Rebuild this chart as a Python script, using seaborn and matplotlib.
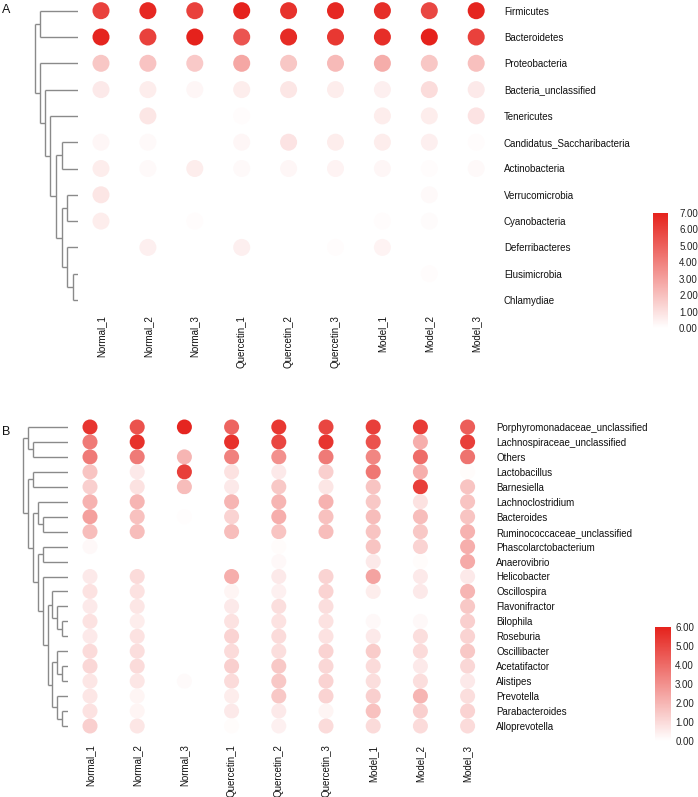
import numpy as np
import pandas as pd
import matplotlib
matplotlib.use("Agg")
import matplotlib.pyplot as plt
import seaborn as sns
from matplotlib.colors import LinearSegmentedColormap, Normalize
from matplotlib.cm import ScalarMappable
from matplotlib.ticker import FormatStrFormatter

# ---------------- data ----------------
samples = ["Normal_1", "Normal_2", "Normal_3", "Quercetin_1", "Quercetin_2",
           "Quercetin_3", "Model_1", "Model_2", "Model_3"]

phyla = ["Firmicutes", "Bacteroidetes", "Proteobacteria", "Bacteria_unclassified",
         "Tenericutes", "Candidatus_Saccharibacteria", "Actinobacteria",
         "Verrucomicrobia", "Cyanobacteria", "Deferribacteres", "Elusimicrobia",
         "Chlamydiae"]
phyla_values = [
    [6.0, 6.8, 6.0, 7.0, 6.5, 6.8, 6.6, 5.8, 6.9],
    [6.9, 6.0, 7.0, 5.4, 6.7, 6.3, 6.6, 7.0, 6.0],
    [1.8, 1.9, 1.7, 2.8, 1.8, 2.2, 2.6, 1.8, 2.0],
    [0.7, 0.6, 0.3, 0.6, 0.8, 0.6, 0.5, 1.1, 0.7],
    [0.0, 0.8, 0.0, 0.1, 0.0, 0.0, 0.6, 0.6, 0.9],
    [0.3, 0.2, 0.0, 0.3, 0.9, 0.6, 0.6, 0.5, 0.1],
    [0.6, 0.2, 0.6, 0.2, 0.3, 0.4, 0.3, 0.1, 0.2],
    [0.8, 0.0, 0.0, 0.0, 0.0, 0.0, 0.0, 0.2, 0.0],
    [0.6, 0.0, 0.1, 0.0, 0.0, 0.0, 0.1, 0.15, 0.0],
    [0.0, 0.5, 0.0, 0.5, 0.0, 0.1, 0.4, 0.0, 0.0],
    [0.0, 0.0, 0.0, 0.0, 0.0, 0.0, 0.0, 0.1, 0.0],
    [0.0, 0.0, 0.0, 0.0, 0.0, 0.0, 0.0, 0.0, 0.0],
]
# dendrogram merges: (child_a, child_b, height)
phyla_tree = [
    (10, 11, 5.5), (9, 12, 11), (7, 8, 11), (14, 13, 16), (5, 6, 16),
    (16, 15, 22), (4, 17, 28), (3, 18, 33), (2, 19, 38), (0, 1, 38), (21, 20, 43),
]

genera = ["Porphyromonadaceae_unclassified", "Lachnospiraceae_unclassified", "Others",
          "Lactobacillus", "Barnesiella", "Lachnoclostridium", "Bacteroides",
          "Ruminococcaceae_unclassified", "Phascolarctobacterium", "Anaerovibrio",
          "Helicobacter", "Oscillospira", "Flavonifractor", "Bilophila", "Roseburia",
          "Oscillibacter", "Acetatifactor", "Alistipes", "Prevotella",
          "Parabacteroides", "Alloprevotella"]
genera_values = [
    [5.5, 4.7, 5.9, 4.2, 5.4, 5.0, 5.2, 5.3, 4.4],
    [3.6, 5.6, 0.0, 5.6, 5.0, 5.5, 4.7, 2.2, 5.2],
    [3.6, 3.6, 2.0, 3.4, 3.0, 3.6, 3.3, 4.0, 3.8],
    [1.6, 0.6, 5.2, 0.8, 0.6, 1.3, 3.7, 2.2, 0.1],
    [1.3, 0.8, 1.8, 0.6, 1.5, 0.7, 1.6, 5.2, 1.6],
    [2.1, 2.0, 0.0, 2.0, 2.0, 2.1, 1.5, 0.8, 1.6],
    [2.6, 1.7, 0.05, 1.2, 2.2, 1.7, 1.8, 1.8, 1.6],
    [1.8, 1.8, 0.0, 1.8, 1.6, 1.8, 1.6, 1.5, 2.1],
    [0.2, 0.0, 0.0, 0.0, 0.1, 0.0, 1.6, 1.2, 2.2],
    [0.0, 0.0, 0.0, 0.0, 0.2, 0.0, 0.6, 0.1, 2.3],
    [0.6, 1.0, 0.0, 2.2, 0.6, 1.2, 2.5, 0.6, 0.6],
    [0.8, 0.8, 0.0, 0.3, 0.4, 1.2, 0.5, 0.6, 2.0],
    [0.6, 0.7, 0.0, 0.6, 0.9, 0.9, 0.0, 0.0, 1.5],
    [0.8, 0.5, 0.0, 0.8, 0.8, 0.8, 0.2, 0.2, 1.3],
    [0.6, 0.8, 0.0, 1.2, 1.0, 0.8, 0.6, 0.9, 1.2],
    [1.0, 0.9, 0.0, 1.0, 0.9, 1.2, 1.4, 1.0, 1.5],
    [1.1, 1.0, 0.0, 1.3, 1.5, 1.1, 1.0, 0.6, 1.1],
    [0.7, 0.7, 0.15, 1.0, 1.5, 1.2, 0.9, 0.9, 0.6],
    [0.7, 0.3, 0.0, 0.5, 1.5, 1.2, 1.3, 2.0, 0.9],
    [0.8, 0.3, 0.0, 0.6, 0.6, 0.3, 1.7, 1.3, 1.2],
    [1.3, 0.7, 0.0, 0.1, 0.4, 1.0, 1.0, 1.0, 1.0],
]
genera_tree = [
    (1, 2, 35), (0, 21, 40), (3, 4, 35), (6, 7, 25), (5, 24, 30), (8, 9, 25),
    (13, 14, 6), (12, 27, 11), (11, 28, 16), (16, 17, 6), (15, 30, 11),
    (19, 20, 6), (18, 32, 11), (31, 33, 16), (29, 34, 20), (10, 35, 25),
    (26, 36, 30), (25, 37, 35), (23, 38, 40), (22, 39, 45),
]
ticks_a = [0, 1, 2, 3, 4, 5, 6, 7]
ticks_b = [0, 1, 2, 3, 4, 5, 6]

# ---------------- style ----------------
sns.set_theme(style="white")
plt.rcParams["font.family"] = ["Liberation Sans", "DejaVu Sans"]
W, H = 698, 797
fig = plt.figure(figsize=(W / 100, H / 100), dpi=100)
cmap = LinearSegmentedColormap.from_list("wr", ["#ffffff", "#f4c4c2", "#e5221c"])
cmap = LinearSegmentedColormap.from_list("wr", ["#ffffff", "#e5221c"])
FS = 7


def rect(x0, y0, x1, y1):
    return [x0 / W, 1 - y1 / H, (x1 - x0) / W, (y1 - y0) / H]


def draw_dendro(ax, merges, n):
    ypos = {i: float(i) for i in range(n)}
    hpos = {i: 0.0 for i in range(n)}
    for k, (a, b, h) in enumerate(merges):
        for c in (a, b):
            ax.plot([hpos[c], h], [ypos[c], ypos[c]], color="#8a8a8a", lw=1.0,
                    solid_capstyle="butt")
        ax.plot([h, h], [ypos[a], ypos[b]], color="#8a8a8a", lw=1.0,
                solid_capstyle="butt")
        ypos[n + k] = (ypos[a] + ypos[b]) / 2
        hpos[n + k] = h


def panel(rows, values, tree, col_x0, col_dx, row_y0, row_dy, leaf_x, s,
          vmax, ticks, cb_rect, cb_pad, xpad, ypad, letter, letter_xy):
    nr, nc = len(rows), len(samples)
    left = col_x0 - col_dx / 2
    right = col_x0 + col_dx * (nc - 0.5)
    top = row_y0 - row_dy / 2
    bottom = row_y0 + row_dy * (nr - 0.5)
    ax = fig.add_axes(rect(left, top, right, bottom))
    df = pd.DataFrame([(j, i, values[i][j]) for i in range(nr) for j in range(nc)],
                      columns=["col", "row", "val"])
    sns.scatterplot(data=df, x="col", y="row", hue="val", palette=cmap,
                    hue_norm=(0, vmax), s=s, linewidth=0, legend=False, ax=ax,
                    clip_on=False)
    ax.set_xlim(-0.5, nc - 0.5)
    ax.set_ylim(nr - 0.5, -0.5)
    ax.set_xticks(range(nc))
    ax.set_xticklabels(samples, rotation=90, fontsize=FS, color="#111111")
    ax.yaxis.tick_right()
    ax.set_yticks(range(nr))
    ax.set_yticklabels(rows, fontsize=FS, color="#111111")
    ax.tick_params(axis="x", length=0, pad=xpad)
    ax.tick_params(axis="y", length=0, pad=ypad)
    ax.set_xlabel("")
    ax.set_ylabel("")
    for sp in ax.spines.values():
        sp.set_visible(False)
    ax.set_facecolor("none")

    dax = fig.add_axes(rect(0, top, leaf_x, bottom))
    draw_dendro(dax, tree, nr)
    dax.set_xlim(leaf_x, 0)
    dax.set_ylim(nr - 0.5, -0.5)
    dax.axis("off")

    cax = fig.add_axes(rect(*cb_rect))
    cb = fig.colorbar(ScalarMappable(Normalize(0, vmax), cmap), cax=cax)
    cb.outline.set_visible(False)
    cb.set_ticks(ticks)
    cb.ax.yaxis.set_major_formatter(FormatStrFormatter("%.2f"))
    cb.ax.tick_params(length=0, pad=cb_pad, labelsize=FS, labelcolor="#222222")

    fig.text(letter_xy[0] / W, 1 - letter_xy[1] / H, letter, fontsize=9,
             ha="left", va="center", color="#111111")


panel(phyla, phyla_values, phyla_tree, col_x0=101, col_dx=46.9,
      row_y0=10.7, row_dy=26.3, leaf_x=78, s=150, vmax=7, ticks=ticks_a,
      cb_rect=(653, 213, 668, 328), cb_pad=8, xpad=1.5, ypad=3,
      letter="A", letter_xy=(2, 10))
panel(genera, genera_values, genera_tree, col_x0=90, col_dx=47.2,
      row_y0=427, row_dy=14.95, leaf_x=68, s=117, vmax=6, ticks=ticks_b,
      cb_rect=(655, 627, 671, 741), cb_pad=3, xpad=8, ypad=3.5,
      letter="B", letter_xy=(2, 432))

fig.savefig("out.png", dpi=100, facecolor="white")
